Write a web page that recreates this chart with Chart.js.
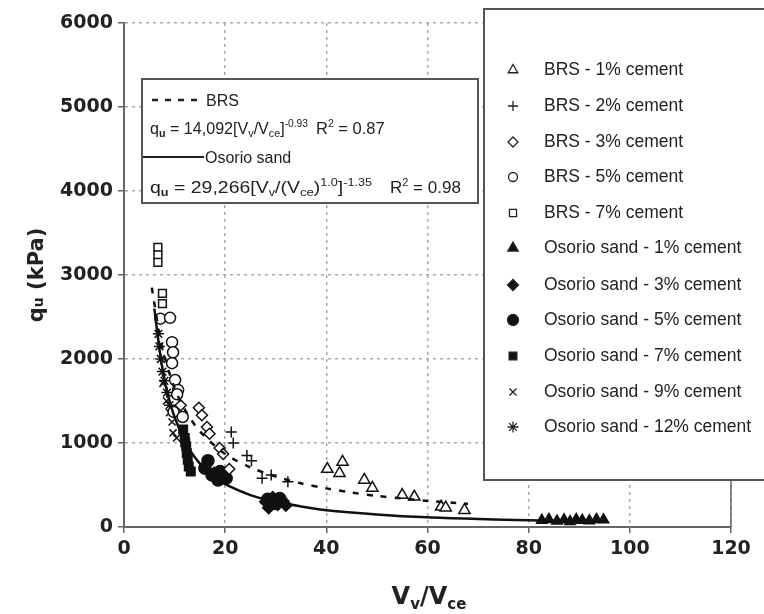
<!DOCTYPE html>
<html><head><meta charset="utf-8">
<script src="https://cdn.jsdelivr.net/npm/chart.js@4"></script>
<style>html,body{margin:0;padding:0;background:#fff;} #wrap{width:764px;height:614px;position:relative;}</style>
</head><body><div id="wrap"><canvas id="c" width="764" height="614"></canvas></div>
<script>
const xTicks = [0, 20, 40, 60, 80, 100, 120];
const yTicks = [0, 1000, 2000, 3000, 4000, 5000, 6000];

const seriesNames = ["BRS - 1% cement","BRS - 2% cement","BRS - 3% cement","BRS - 5% cement","BRS - 7% cement",
  "Osorio sand - 1% cement","Osorio sand - 3% cement","Osorio sand - 5% cement","Osorio sand - 7% cement",
  "Osorio sand - 9% cement","Osorio sand - 12% cement"];

const brs1X = [40.2, 43.2, 42.6, 47.5, 49.1, 55.0, 57.4, 62.7, 63.6, 67.3];
const brs1Y = [690, 775, 640, 560, 465, 380, 360, 240, 230, 200];
const brs2X = [21.2, 21.6, 24.3, 25.2, 27.3, 29.1, 32.4];
const brs2Y = [1130, 1000, 850, 790, 580, 620, 540];
const brs3X = [14.8, 15.4, 16.4, 16.9, 18.9, 19.6, 20.8, 11.2];
const brs3Y = [1420, 1330, 1190, 1110, 940, 870, 690, 1450];
const brs5X = [7.2, 9.1, 9.5, 9.7, 9.5, 10.1, 10.7, 10.5, 9.8, 11.6];
const brs5Y = [2480, 2490, 2200, 2080, 1950, 1750, 1630, 1580, 1370, 1310];
const brs7X = [6.7, 6.7, 6.7, 7.6, 7.6];
const brs7Y = [3330, 3240, 3150, 2780, 2660];
const os1X = [82.6, 84.0, 85.6, 87.0, 88.2, 89.4, 90.6, 92.0, 93.4, 94.8];
const os1Y = [80, 90, 70, 85, 65, 90, 80, 75, 90, 85];
const os3X = [28.0, 28.6, 29.4, 30.4, 31.4, 32.0, 17.8];
const os3Y = [300, 230, 350, 270, 310, 260, 640];
const os5X = [16.0, 16.6, 17.4, 18.2, 19.0, 20.2, 18.6, 28.4, 29.8, 30.8];
const os5Y = [700, 790, 620, 600, 660, 580, 560, 330, 280, 340];
const os7X = [11.7, 12.0, 12.3, 12.4, 12.6, 12.8, 13.2, 12.1];
const os7Y = [1160, 1060, 960, 880, 800, 720, 660, 1010];
const os9X = [7.7, 8.4, 9.0, 9.5, 9.7, 10.4];
const os9Y = [1710, 1500, 1360, 1250, 1120, 1060];
const os12X = [6.8, 7.0, 7.3, 7.6, 8.0, 8.5, 9.0];
const os12Y = [2300, 2150, 2000, 1850, 1740, 1600, 1450];

const fitBrsX = [5.5, 7, 8, 10, 12, 15, 20, 25, 30, 35, 40, 45, 50, 55, 60, 65, 68];
const fitBrsY = [2850, 2300, 2030, 1650, 1400, 1140, 870, 710, 600, 520, 460, 410, 370, 340, 310, 290, 275];
const fitOsX = [6, 7, 8, 9, 10, 12, 14, 16, 18, 20, 25, 30, 35, 40, 50, 60, 70, 80, 90, 95];
const fitOsY = [2600, 2120, 1750, 1500, 1310, 1020, 830, 690, 590, 510, 380, 300, 245, 200, 150, 115, 95, 80, 68, 63];

const INK = '#111';
const pts = (xs, ys) => xs.map((x, i) => ({x: x, y: ys[i]}));

const markerStyles = [
  {style: 'triangle', fill: '#fff', r: 6.5, lr: 5.5},
  {style: 'cross', fill: '#fff', r: 5.5, lr: 5},
  {style: 'rectRot', fill: '#fff', r: 5.5, lr: 5},
  {style: 'circle', fill: '#fff', r: 5.5, lr: 4.5},
  {style: 'rect', fill: '#fff', r: 5.5, lr: 5},
  {style: 'triangle', fill: INK, r: 6, lr: 6},
  {style: 'rectRot', fill: INK, r: 6, lr: 5.5},
  {style: 'circle', fill: INK, r: 6, lr: 5.5},
  {style: 'rect', fill: INK, r: 6, lr: 5.5},
  {style: 'crossRot', fill: '#fff', r: 5, lr: 5},
  {style: 'star', fill: '#fff', r: 5.5, lr: 5.5}
];
const seriesData = [
  pts(brs1X, brs1Y), pts(brs2X, brs2Y), pts(brs3X, brs3Y), pts(brs5X, brs5Y), pts(brs7X, brs7Y),
  pts(os1X, os1Y), pts(os3X, os3Y), pts(os5X, os5Y), pts(os7X, os7Y), pts(os9X, os9Y), pts(os12X, os12Y)
];

const datasets = [
  {type: 'line', label: 'BRS fit', data: pts(fitBrsX, fitBrsY), borderColor: INK, borderWidth: 2.5,
   borderDash: [6, 8], pointRadius: 0, fill: false, tension: 0.3, order: 1},
  {type: 'line', label: 'Osorio fit', data: pts(fitOsX, fitOsY), borderColor: INK, borderWidth: 2.5,
   pointRadius: 0, fill: false, tension: 0.3, order: 1}
];
seriesNames.forEach((name, i) => {
  const m = markerStyles[i];
  datasets.push({type: 'scatter', label: name, data: seriesData[i], pointStyle: m.style,
    pointRadius: m.r, pointBackgroundColor: m.fill, pointBorderColor: INK, pointBorderWidth: 1.5,
    showLine: false, order: 2});
});

const FONT = '"Liberation Sans", Arial, sans-serif';
function rich(ctx, x, y, segs, measureOnly) {
  let cx = x;
  for (const s of segs) {
    ctx.font = (s.b ? 'bold ' : '') + s.s + 'px ' + (s.f || FONT);
    if (!measureOnly) ctx.fillText(s.t, cx, y + (s.dy || 0));
    cx += ctx.measureText(s.t).width;
  }
  return cx - x;
}
function richFit(ctx, x, y, segs, targetW) {
  const w = rich(ctx, 0, 0, segs, true);
  ctx.save(); ctx.translate(x, y); ctx.scale(targetW / w, 1);
  rich(ctx, 0, 0, segs); ctx.restore();
}

const overlay = {
  id: 'overlay',
  afterDraw(chart) {
    const ctx = chart.ctx;
    const xs = chart.scales.x, ys = chart.scales.y;
    ctx.save();
    ctx.strokeStyle = '#666'; ctx.lineWidth = 1.5;
    ctx.beginPath(); ctx.moveTo(xs.getPixelForValue(120), ys.top); ctx.lineTo(xs.getPixelForValue(120), ys.bottom); ctx.stroke();

    // equation box
    ctx.fillStyle = '#fff'; ctx.fillRect(142, 79, 336, 124);
    ctx.strokeStyle = '#555'; ctx.lineWidth = 2; ctx.strokeRect(142, 79, 336, 124);
    ctx.fillStyle = '#222'; ctx.textBaseline = 'alphabetic'; ctx.textAlign = 'left';
    ctx.strokeStyle = '#222'; ctx.lineWidth = 2.5;
    ctx.setLineDash([6, 7]);
    ctx.beginPath(); ctx.moveTo(152, 100); ctx.lineTo(204, 100); ctx.stroke();
    ctx.setLineDash([]);
    rich(ctx, 206, 106, [{t: 'BRS', s: 16}]);
    richFit(ctx, 150, 134, [
      {t: 'q', s: 16.5}, {t: 'u', s: 11, dy: 3, b: true}, {t: ' = 14,092[V', s: 16.5}, {t: 'v', s: 11, dy: 3},
      {t: '/V', s: 16.5}, {t: 'ce', s: 11, dy: 3}, {t: ']', s: 16.5}, {t: '-0.93', s: 10.5, dy: -7}], 158);
    rich(ctx, 316, 134, [{t: 'R', s: 16.5}, {t: '2', s: 10.5, dy: -7}, {t: ' = 0.87', s: 16.5}]);
    ctx.lineWidth = 2.2;
    ctx.beginPath(); ctx.moveTo(143, 157); ctx.lineTo(204, 157); ctx.stroke();
    rich(ctx, 205, 163, [{t: 'Osorio sand', s: 16}]);
    richFit(ctx, 150, 193, [
      {t: 'q', s: 17}, {t: 'u', s: 11, dy: 3, b: true}, {t: ' = 29,266[V', s: 17}, {t: 'v', s: 11, dy: 3},
      {t: '/(V', s: 17}, {t: 'ce', s: 11.5, dy: 3}, {t: ')', s: 17}, {t: '1.0', s: 11, dy: -7}, {t: ']', s: 17},
      {t: '-1.35', s: 11, dy: -7}], 222);
    rich(ctx, 390, 193, [{t: 'R', s: 17}, {t: '2', s: 11, dy: -7}, {t: ' = 0.98', s: 17}]);

    // legend box
    ctx.fillStyle = '#fff'; ctx.fillRect(484, 9, 300, 471);
    ctx.strokeStyle = '#555'; ctx.lineWidth = 2; ctx.strokeRect(484, 9, 300, 471);
    const rowY = [70, 106, 142, 177, 213, 248, 285, 320, 356, 392, 427];
    seriesNames.forEach((name, i) => {
      const m = markerStyles[i];
      ctx.fillStyle = m.fill; ctx.strokeStyle = '#222'; ctx.lineWidth = 1.3;
      Chart.helpers.drawPoint(ctx, {pointStyle: m.style, radius: m.lr, borderWidth: 1.3, rotation: 0}, 513, rowY[i]);
      ctx.fillStyle = '#222'; ctx.textBaseline = 'middle';
      ctx.font = '17.5px ' + FONT;
      ctx.fillText(name, 544, rowY[i]);
    });

    // axis titles
    ctx.fillStyle = '#222'; ctx.textBaseline = 'alphabetic';
    const BF = '"DejaVu Sans", sans-serif';
    const ySegs = [{t: 'q', s: 21, b: true, f: BF}, {t: 'u', s: 14, b: true, f: BF, dy: 0}, {t: ' (kPa)', s: 21, b: true, f: BF}];
    const yw = rich(ctx, 0, 0, ySegs, true);
    ctx.save(); ctx.translate(43, 275); ctx.rotate(-Math.PI / 2);
    rich(ctx, -yw / 2, 0, ySegs); ctx.restore();
    const xSegs = [{t: 'V', s: 24, b: true, f: BF}, {t: 'v', s: 15, b: true, f: BF, dy: 5}, {t: '/V', s: 24, b: true, f: BF},
      {t: 'ce', s: 15, b: true, f: BF, dy: 5}];
    const xw = rich(ctx, 0, 0, xSegs, true);
    rich(ctx, 429 - xw / 2, 604, xSegs);
    ctx.restore();
  }
};

new Chart(document.getElementById('c'), {
  data: {datasets: datasets},
  plugins: [overlay],
  options: {
    responsive: false, animation: false, devicePixelRatio: 1,
    layout: {padding: {left: 0, top: 23, right: 33, bottom: 0}},
    plugins: {legend: {display: false}, tooltip: {enabled: false}, title: {display: false}},
    scales: {
      x: {type: 'linear', min: 0, max: 120,
        afterBuildTicks: s => { s.ticks = xTicks.map(v => ({value: v})); },
        afterFit: s => { s.height = 87; },
        grid: {color: '#aaa', lineWidth: 1.5, tickLength: 6, tickColor: '#666', tickWidth: 1.5},
        border: {color: '#666', width: 2, dash: [3, 4]},
        ticks: {color: '#222', padding: 5, callback: v => String(v),
          font: {family: '"DejaVu Sans", sans-serif', size: 19, weight: 'bold'}, maxRotation: 0}
      },
      y: {type: 'linear', min: 0, max: 6000,
        afterBuildTicks: s => { s.ticks = yTicks.map(v => ({value: v})); },
        afterFit: s => { s.width = 124; },
        grid: {color: '#aaa', lineWidth: 1.5, tickLength: 6, tickColor: '#666', tickWidth: 1.5},
        border: {color: '#666', width: 2, dash: [3, 4]},
        ticks: {color: '#222', padding: 5, callback: v => String(v),
          font: {family: '"DejaVu Sans", sans-serif', size: 19, weight: 'bold'}}
      }
    }
  }
});
</script>
</body></html>
